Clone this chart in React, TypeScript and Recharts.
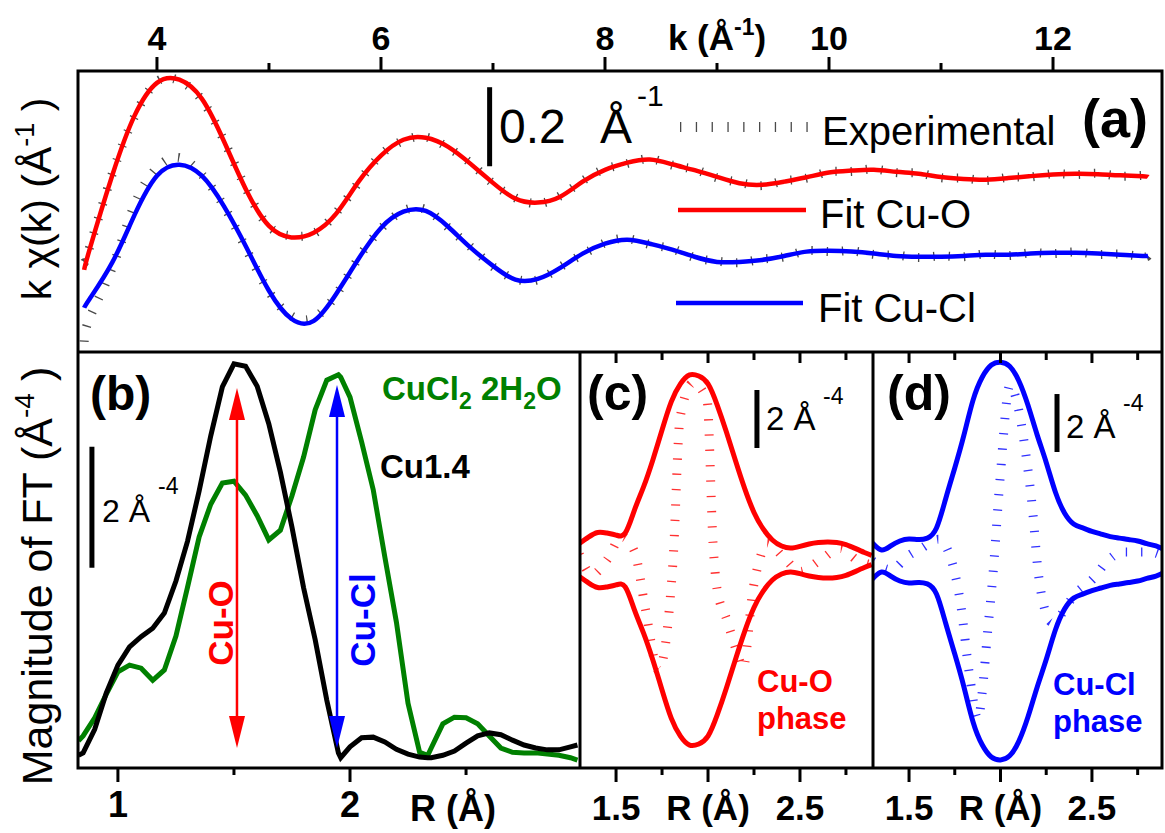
import React from 'react';
import { LineChart, Line, XAxis, YAxis, ReferenceLine } from 'recharts';

const W = 1165;
const H = 833;
const FONT = '"Liberation Sans", Arial, Helvetica, sans-serif';

// ---------- (a) k-space: k*chi(k), fits and experimental ----------
const kValues = [
  3.35, 3.4, 3.6, 3.8, 4.0, 4.2, 4.4, 4.6, 4.8, 5.0,
  5.2, 5.4, 5.6, 5.8, 6.0, 6.2, 6.4, 6.6, 6.8, 7.0,
  7.2, 7.4, 7.6, 7.8, 8.0, 8.2, 8.4, 8.6, 8.8, 9.0,
  9.2, 9.4, 9.6, 9.8, 10.0, 10.2, 10.4, 10.6, 10.8, 11.0,
  11.2, 11.4, 11.6, 11.8, 12.0, 12.2, 12.4, 12.6, 12.8, 12.85,
];
const cuOFit = [
  -0.238, -0.185, 0.0, 0.152, 0.235, 0.243, 0.195, 0.086, -0.038, -0.127,
  -0.156, -0.144, -0.096, -0.015, 0.051, 0.091, 0.096, 0.073, 0.03, -0.018,
  -0.058, -0.068, -0.053, -0.015, 0.015, 0.033, 0.041, 0.029, 0.014, -0.003,
  -0.019, -0.023, -0.015, -0.004, 0.008, 0.013, 0.015, 0.01, 0.005, -0.003,
  -0.008, -0.01, -0.006, -0.001, 0.003, 0.005, 0.004, 0.001, -0.001, -0.003,
];
const cuOExp = [
  -0.22, -0.18, 0.004, 0.15, 0.238, 0.24, 0.192, 0.088, -0.035, -0.128,
  -0.152, -0.146, -0.094, -0.017, 0.053, 0.089, 0.098, 0.071, 0.032, -0.02,
  -0.056, -0.07, -0.051, -0.013, 0.017, 0.031, 0.043, 0.027, 0.016, -0.005,
  -0.017, -0.025, -0.013, -0.006, 0.01, 0.011, 0.017, 0.008, 0.007, -0.005,
  -0.006, -0.012, -0.004, -0.003, 0.005, 0.003, 0.006, -0.001, 0.001, -0.004,
];
const cuClFit = [
  -0.134, -0.111, -0.02, 0.101, 0.2, 0.228, 0.2, 0.122, 0.018, -0.091,
  -0.162, -0.167, -0.099, -0.01, 0.068, 0.109, 0.111, 0.071, 0.018, -0.028,
  -0.063, -0.061, -0.033, 0.003, 0.028, 0.038, 0.028, 0.013, -0.005, -0.018,
  -0.018, -0.013, -0.003, 0.008, 0.01, 0.008, 0.003, -0.003, -0.005, -0.005,
  -0.003, 0.0, 0.0, 0.003, 0.005, 0.005, 0.003, 0.0, -0.003, -0.003,
];
const cuClExp = [
  -0.22, -0.159, -0.033, 0.127, 0.22, 0.246, 0.203, 0.122, 0.013, -0.093,
  -0.155, -0.159, -0.101, -0.008, 0.066, 0.111, 0.114, 0.069, 0.02, -0.03,
  -0.061, -0.063, -0.031, 0.001, 0.03, 0.041, 0.026, 0.015, -0.007, -0.016,
  -0.02, -0.011, -0.005, 0.01, 0.008, 0.01, 0.001, -0.001, -0.007, -0.003,
  -0.005, 0.002, -0.002, 0.005, 0.003, 0.007, 0.001, 0.002, -0.005, -0.001,
];
const cuOShift = 0.446;
const cuClShift = 0.246;
const kTicks = [4, 5, 6, 7, 8, 9, 10, 11, 12];

// ---------- (b) FT magnitude ----------
const rValues = [
  0.83, 0.85, 0.9, 0.95, 1.0, 1.05, 1.1, 1.15, 1.2, 1.25,
  1.3, 1.35, 1.4, 1.45, 1.5, 1.55, 1.6, 1.65, 1.7, 1.75,
  1.8, 1.85, 1.9, 1.95, 1.96, 2.0, 2.05, 2.1, 2.15, 2.2,
  2.25, 2.3, 2.335, 2.35, 2.4, 2.45, 2.5, 2.55, 2.6, 2.65,
  2.7, 2.75, 2.8, 2.85, 2.9, 2.95, 2.98,
];
const cu14 = [
  0.21, 0.25, 0.64, 1.24, 1.7, 2.0, 2.17, 2.31, 2.56, 3.09,
  3.75, 4.58, 5.49, 6.3, 6.68, 6.64, 6.31, 5.69, 4.89, 3.98,
  2.98, 2.12, 1.12, 0.25, 0.17, 0.35, 0.5, 0.51, 0.43, 0.31,
  0.23, 0.18, 0.17, 0.17, 0.21, 0.28, 0.41, 0.53, 0.58, 0.55,
  0.46, 0.38, 0.33, 0.3, 0.3, 0.35, 0.38,
];
const cuCl2 = [
  0.45, 0.53, 0.83, 1.22, 1.59, 1.7, 1.65, 1.45, 1.62, 2.18,
  2.99, 3.82, 4.36, 4.71, 4.74, 4.51, 4.17, 3.77, 3.93, 4.5,
  5.14, 5.92, 6.41, 6.5, 6.46, 6.13, 5.39, 4.6, 3.49, 2.41,
  1.07, 0.26, 0.21, 0.33, 0.73, 0.84, 0.83, 0.73, 0.53, 0.33,
  0.26, 0.25, 0.25, 0.23, 0.21, 0.17, 0.13,
];
const rTicksB = [1, 1.5, 2, 2.5];

// ---------- (c), (d) single-phase fits ----------
const rPhase = [
  1.3, 1.35, 1.4, 1.45, 1.5, 1.55, 1.6, 1.65, 1.7, 1.75,
  1.8, 1.85, 1.9, 1.95, 2.0, 2.05, 2.1, 2.15, 2.2, 2.25,
  2.3, 2.35, 2.4, 2.45, 2.5, 2.55, 2.6, 2.65, 2.7, 2.75,
  2.8, 2.85, 2.89,
];
const cuOMag = [
  0.57, 0.79, 0.95, 0.93, 0.86, 0.93, 1.72, 2.53, 3.45, 4.48,
  5.45, 6.07, 6.38, 6.34, 6.07, 5.34, 4.41, 3.41, 2.45, 1.64,
  1.07, 0.69, 0.48, 0.41, 0.47, 0.55, 0.6, 0.62, 0.6, 0.53,
  0.4, 0.26, 0.16,
];
const cuClMag = [
  0.62, 0.38, 0.52, 0.69, 0.76, 0.74, 0.79, 1.14, 2.14, 3.21,
  4.34, 5.55, 6.34, 6.76, 6.86, 6.72, 6.22, 5.38, 4.36, 3.4,
  2.38, 1.66, 1.28, 1.14, 1.02, 0.93, 0.84, 0.79, 0.74, 0.69,
  0.6, 0.52, 0.41,
];
const cuOImR = [
  1.3, 1.37, 1.45, 1.53, 1.6, 1.66, 1.73, 1.81, 1.848, 1.918,
  1.995, 2.027, 2.049, 2.103, 2.158, 2.19, 2.245, 2.283, 2.32, 2.41,
  2.5, 2.61, 2.72, 2.81, 2.89,
];
const cuOIm = [
  0.2, -0.5, 0.0, 0.8, 0.3, -1.7, -3.8, 0.0, 4.9, 6.1,
  5.5, 0.6, -1.0, -2.07, -3.2, -3.72, -1.0, 0.07, 0.59, 0.1,
  -0.4, 0.0, 0.4, 0.0, -0.17,
];
const cuClImR = [
  1.3, 1.4, 1.5, 1.57, 1.66, 1.72, 1.78, 1.83, 1.877, 1.904,
  1.926, 1.959, 1.997, 2.052, 2.09, 2.137, 2.178, 2.2, 2.243, 2.28,
  2.418, 2.505, 2.58, 2.67, 2.82, 2.88,
];
const cuClIm = [
  0.0, -0.3, 0.2, 0.45, 0.75, 0.24, -1.4, -3.9, -5.45, -4.28,
  -2.69, -0.45, 2.79, 6.07, 5.48, 3.76, 1.59, -0.03, -1.69, -2.1,
  -1.07, -0.62, -0.03, 0.31, 0.31, 0.2,
];
const rTicksCD = [1.5, 1.75, 2, 2.25, 2.5, 2.75];

const pts = (xs: number[], ys: number[], shift = 0) => xs.map((x, i) => ({ x, y: ys[i] + shift }));

const expStyle = { strokeWidth: 9, strokeDasharray: '1.3 14' };

const TopKTick = (p: any) => {
  const { x, y, payload } = p;
  const v = payload.value;
  const major = v % 2 === 0;
  return (
    <g>
      <line x1={x} x2={x} y1={y} y2={y - (major ? 14 : 8)} stroke="#000" strokeWidth={3} />
      {major && (
        <text x={x} y={y - 21} textAnchor="middle" fontFamily={FONT} fontWeight="bold" fontSize={34}>{v}</text>
      )}
      {v === 9 && (
        <text x={x} y={y - 21} textAnchor="middle" fontFamily={FONT} fontWeight="bold" fontSize={35}>
          k (Å<tspan dy={-15} fontSize={23}>-1</tspan><tspan dy={15}>)</tspan>
        </text>
      )}
    </g>
  );
};

const BottomTickB = (p: any) => {
  const { x, y, payload } = p;
  const v = payload.value;
  const major = Number.isInteger(v);
  return (
    <g>
      <line x1={x} x2={x} y1={y} y2={y + (major ? 14 : 7)} stroke="#000" strokeWidth={3} />
      {major && (
        <text x={x} y={y + 49} textAnchor="middle" fontFamily={FONT} fontWeight="bold" fontSize={36}>{v}</text>
      )}
    </g>
  );
};

const isHalf = (v: number) => Math.abs(v * 2 - Math.round(v * 2)) < 1e-6;

const BottomTickCD = (p: any) => {
  const { x, y, payload } = p;
  const v = payload.value;
  const major = isHalf(v);
  return (
    <g>
      <line x1={x} x2={x} y1={y} y2={y + (major ? 14 : 7)} stroke="#000" strokeWidth={3} />
      {major && (
        <text x={x} y={y + 52} textAnchor="middle" fontFamily={FONT} fontWeight="bold" fontSize={35}>
          {v === 2 ? 'R (Å)' : v.toFixed(1)}
        </text>
      )}
    </g>
  );
};

const TopTickCD = (p: any) => {
  const { x, y, payload } = p;
  const major = isHalf(payload.value);
  return <line x1={x} x2={x} y1={y} y2={y + (major ? 11 : 8)} stroke="#000" strokeWidth={3} />;
};

const arrowShape = (color: string) => (p: any) => {
  const { x1, y1, y2 } = p;
  const top = Math.min(y1, y2);
  const bot = Math.max(y1, y2);
  const hl = 32;
  const hw = 8;
  return (
    <g>
      <line x1={x1} x2={x1} y1={top + hl - 2} y2={bot - hl + 2} stroke={color} strokeWidth={2.5} />
      <polygon points={`${x1},${top} ${x1 - hw},${top + hl} ${x1 + hw},${top + hl}`} fill={color} />
      <polygon points={`${x1},${bot} ${x1 - hw},${bot - hl} ${x1 + hw},${bot - hl}`} fill={color} />
    </g>
  );
};

const layer: React.CSSProperties = { position: 'absolute', left: 0, top: 0 };

const PanelA = () => (
  <LineChart width={W} height={H} margin={{ top: 41, right: 3, bottom: 481, left: 78 }}>
    <XAxis
      type="number" dataKey="x" orientation="top" height={30}
      domain={[3.295, 12.973]} allowDataOverflow ticks={kTicks} interval={0}
      tickLine={false} axisLine={false} tickSize={0} tickMargin={0}
      tick={(p: any) => <TopKTick {...p} />}
    />
    <YAxis type="number" hide domain={[0, 0.711]} allowDataOverflow />
    <Line data={pts(kValues, cuOExp, cuOShift)} dataKey="y" type="natural" stroke="#4a4a4a" {...expStyle} dot={false} isAnimationActive={false} />
    <Line data={pts(kValues, cuClExp, cuClShift)} dataKey="y" type="natural" stroke="#4a4a4a" {...expStyle} dot={false} isAnimationActive={false} />
    <Line data={pts(kValues, cuOFit, cuOShift)} dataKey="y" type="natural" stroke="#ff0000" strokeWidth={4.5} dot={false} isAnimationActive={false} />
    <Line data={pts(kValues, cuClFit, cuClShift)} dataKey="y" type="natural" stroke="#0000ff" strokeWidth={4.5} dot={false} isAnimationActive={false} />
    <ReferenceLine segment={[{ x: 6.97, y: 0.47 }, { x: 6.97, y: 0.67 }]} stroke="#000" strokeWidth={5} />
  </LineChart>
);

const PanelB = () => (
  <LineChart width={W} height={H} margin={{ top: 352, right: 585, bottom: 35, left: 78 }}>
    <XAxis
      type="number" dataKey="x" height={30}
      domain={[0.828, 2.991]} allowDataOverflow ticks={rTicksB} interval={0}
      tickLine={false} axisLine={false} tickSize={0} tickMargin={0}
      tick={(p: any) => <BottomTickB {...p} />}
    />
    <YAxis type="number" hide domain={[0, 6.876]} allowDataOverflow />
    <Line data={pts(rValues, cuCl2)} dataKey="y" type="linear" stroke="#008000" strokeWidth={5} dot={false} isAnimationActive={false} />
    <Line data={pts(rValues, cu14)} dataKey="y" type="linear" stroke="#000000" strokeWidth={5} dot={false} isAnimationActive={false} />
    <ReferenceLine segment={[{ x: 1.513, y: 0.33 }, { x: 1.513, y: 6.28 }]} shape={arrowShape('#ff0000')} />
    <ReferenceLine segment={[{ x: 1.944, y: 0.33 }, { x: 1.944, y: 6.33 }]} shape={arrowShape('#0000ff')} />
    <ReferenceLine segment={[{ x: 0.888, y: 3.31 }, { x: 0.888, y: 5.31 }]} stroke="#000" strokeWidth={5} />
  </LineChart>
);

const PhasePanel = (props: {
  left: number; right: number; domain: [number, number]; yDomain: [number, number];
  mag: number[]; imR: number[]; im: number[]; color: string; dashColor: string; bar: number; barY: number;
}) => (
  <LineChart width={W} height={H} margin={{ top: 352, right: props.right, bottom: 35, left: props.left }}>
    <XAxis
      type="number" dataKey="x" height={30}
      domain={props.domain} allowDataOverflow ticks={rTicksCD} interval={0}
      tickLine={false} axisLine={false} tickSize={0} tickMargin={0}
      tick={(p: any) => <BottomTickCD {...p} />}
    />
    <XAxis
      xAxisId="top" type="number" dataKey="x" orientation="top" mirror
      domain={props.domain} allowDataOverflow ticks={rTicksCD} interval={0}
      tickLine={false} axisLine={false} tickSize={0} tickMargin={0}
      tick={(p: any) => <TopTickCD {...p} />}
    />
    <YAxis type="number" hide domain={props.yDomain} allowDataOverflow />
    <Line data={pts(props.imR, props.im)} dataKey="y" type="monotone" stroke={props.dashColor} {...expStyle} dot={false} isAnimationActive={false} />
    <Line data={pts(rPhase, props.mag)} dataKey="y" type="natural" stroke={props.color} strokeWidth={5} dot={false} isAnimationActive={false} />
    <Line data={pts(rPhase, props.mag.map((m) => -m))} dataKey="y" type="natural" stroke={props.color} strokeWidth={5} dot={false} isAnimationActive={false} />
    <ReferenceLine segment={[{ x: props.bar, y: props.barY }, { x: props.bar, y: props.barY + 2 }]} stroke="#000" strokeWidth={5} />
  </LineChart>
);

const T = (p: any) => <text fontFamily={FONT} {...p} />;

const Overlay = () => (
  <svg width={W} height={H} style={layer}>
    {/* frames */}
    <rect x={78} y={71} width={1084} height={697} fill="none" stroke="#000" strokeWidth={3} />
    <line x1={78} x2={1162} y1={352} y2={352} stroke="#000" strokeWidth={3} />
    <line x1={580} x2={580} y1={352} y2={768} stroke="#000" strokeWidth={3} />
    <line x1={873} x2={873} y1={352} y2={768} stroke="#000" strokeWidth={3} />

    {/* y-axis titles */}
    <T transform="translate(51,199) rotate(-90)" textAnchor="middle" fontSize={41}>
      k χ(k) (Å<tspan dy={-17} fontSize={27}>-1</tspan><tspan dy={17}> )</tspan>
    </T>
    <T transform="translate(52,576) rotate(-90)" textAnchor="middle" fontSize={43}>
      Magnitude of FT (Å<tspan dy={-18} fontSize={28}>-4</tspan><tspan dy={18}> )</tspan>
    </T>

    {/* panel (a) */}
    <T x={499} y={143} fontSize={48}>0.2</T>
    <T x={600} y={143} fontSize={48}>Å</T>
    <T x={637} y={106} fontSize={30}>-1</T>
    <line x1={680} x2={808} y1={127} y2={127} stroke="#4a4a4a" strokeWidth={10} strokeDasharray="1.3 14.5" />
    <T x={822} y={145} fontSize={40}>Experimental</T>
    <line x1={678} x2={806} y1={210} y2={210} stroke="#ff0000" strokeWidth={4.5} />
    <T x={820} y={228} fontSize={40}>Fit Cu-O</T>
    <line x1={676} x2={803} y1={303} y2={303} stroke="#0000ff" strokeWidth={4.5} />
    <T x={818} y={322} fontSize={40}>Fit Cu-Cl</T>
    <T x={1082} y={137} fontSize={54} fontWeight="bold">(a)</T>

    {/* panel (b) */}
    <T x={90} y={410} fontSize={48} fontWeight="bold">(b)</T>
    <T x={102} y={522} fontSize={32}>2 Å</T>
    <T x={158} y={494} fontSize={23}>-4</T>
    <T x={382} y={400} fontSize={33} fontWeight="bold" fill="#008000">
      CuCl<tspan dy={9} fontSize={23}>2</tspan><tspan dy={-9}> 2H</tspan><tspan dy={9} fontSize={23}>2</tspan><tspan dy={-9}>O</tspan>
    </T>
    <T x={380} y={478} fontSize={33} fontWeight="bold">Cu1.4</T>
    <T transform="translate(233,623) rotate(-90)" textAnchor="middle" fontSize={35} fontWeight="bold" fill="#ff0000">Cu-O</T>
    <T transform="translate(375,620) rotate(-90)" textAnchor="middle" fontSize={35} fontWeight="bold" fill="#0000ff">Cu-Cl</T>
    <T x={453} y={821} textAnchor="middle" fontSize={36} fontWeight="bold">R (Å)</T>

    {/* panel (c) */}
    <T x={587} y={410} fontSize={50} fontWeight="bold">(c)</T>
    <T x={766} y={430} fontSize={33}>2 Å</T>
    <T x={823} y={404} fontSize={23}>-4</T>
    <T x={757} y={692} fontSize={31} fontWeight="bold" fill="#ff0000">Cu-O</T>
    <T x={757} y={729} fontSize={31} fontWeight="bold" fill="#ff0000">phase</T>

    {/* panel (d) */}
    <T x={887} y={410} fontSize={50} fontWeight="bold">(d)</T>
    <T x={1066} y={438} fontSize={33}>2 Å</T>
    <T x={1123} y={411} fontSize={23}>-4</T>
    <T x={1053} y={695} fontSize={31} fontWeight="bold" fill="#0000ff">Cu-Cl</T>
    <T x={1053} y={732} fontSize={31} fontWeight="bold" fill="#0000ff">phase</T>
  </svg>
);

export default function App() {
  return (
    <div style={{ position: 'absolute', left: 0, top: 0, width: W, height: H, background: '#fff', overflow: 'hidden' }}>
      <div style={layer}><PanelA /></div>
      <div style={layer}><PanelB /></div>
      <div style={layer}>
        <PhasePanel left={580} right={292} domain={[1.304, 2.897]} yDomain={[-7.17, 7.17]}
          mag={cuOMag} imR={cuOImR} im={cuOIm} color="#ff0000" dashColor="#ff3030" bar={2.266} barY={3.86} />
      </div>
      <div style={layer}>
        <PhasePanel left={873} right={3} domain={[1.303, 2.883]} yDomain={[-7.14, 7.21]}
          mag={cuClMag} imR={cuClImR} im={cuClIm} color="#0000ff" dashColor="#3030ff" bar={2.309} barY={3.76} />
      </div>
      <Overlay />
    </div>
  );
}
